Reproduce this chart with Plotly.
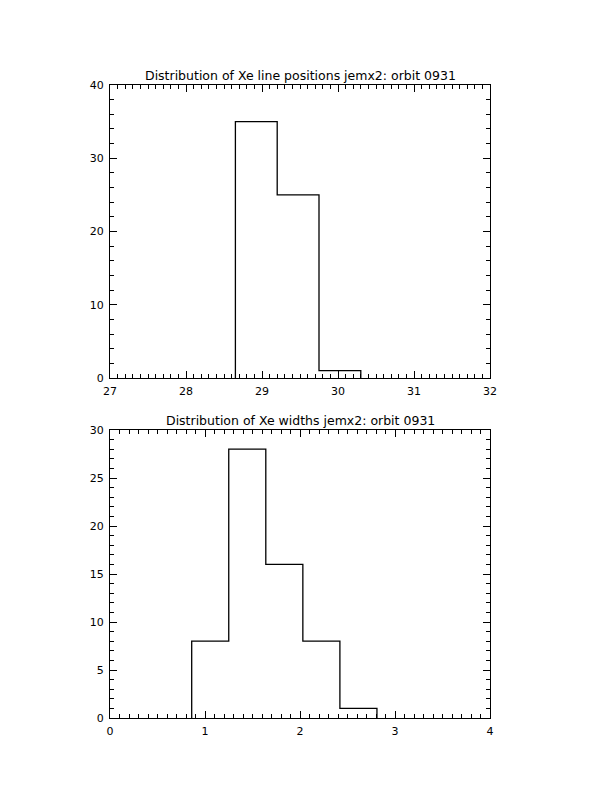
import plotly.graph_objects as go

# Top histogram: Xe line positions
pos_edges = [28.65, 29.2, 29.75, 30.3]   # bin left edges + final right edge
pos_counts = [35, 25, 1]

# Bottom histogram: Xe widths
wid_edges = [0.86, 1.25, 1.64, 2.03, 2.42, 2.81]
wid_counts = [8, 28, 16, 8, 1]

title_top = "Distribution of Xe line positions jemx2: orbit 0931"
title_bot = "Distribution of Xe widths jemx2: orbit 0931"


def step_outline(edges, counts):
    xs, ys = [edges[0]], [0]
    for i, c in enumerate(counts):
        xs += [edges[i], edges[i + 1]]
        ys += [c, c]
    xs.append(edges[-1])
    ys.append(0)
    return xs, ys


# page has an 8px body margin; size the figure so it fits without scrolling
OFF = 8
W, H = 612 - 2 * OFF, 792 - 2 * OFF
xdom = [(110 - OFF) / W, (490 - OFF) / W]
ydom_top = [(H - (378 - OFF)) / H, (H - (85 - OFF)) / H]
ydom_bot = [(H - (718 - OFF)) / H, (H - (430 - OFF)) / H]

fig = go.Figure()
x1, y1 = step_outline(pos_edges, pos_counts)
x2, y2 = step_outline(wid_edges, wid_counts)
fig.add_trace(go.Scatter(x=x1, y=y1, mode="lines", line=dict(color="black", width=1.3),
                         xaxis="x", yaxis="y", showlegend=False, hoverinfo="skip"))
fig.add_trace(go.Scatter(x=x2, y=y2, mode="lines", line=dict(color="black", width=1.3),
                         xaxis="x2", yaxis="y2", showlegend=False, hoverinfo="skip"))

font = dict(family="DejaVu Sans", size=11, color="black")


def axis(rng, dtick, minor_dtick, domain, anchor):
    return dict(range=rng, dtick=dtick, tick0=rng[0], domain=domain, anchor=anchor,
                showgrid=False, zeroline=False, showline=True, linecolor="black",
                linewidth=1, mirror="allticks", ticks="inside", ticklen=7,
                tickwidth=1, tickcolor="black", tickfont=font, ticklabelstandoff=3,
                automargin=False,
                minor=dict(dtick=minor_dtick, ticks="inside", ticklen=4,
                           tickcolor="black", tickwidth=1, showgrid=False))


fig.update_layout(
    width=W, height=H, margin=dict(l=0, r=0, t=0, b=0, pad=0, autoexpand=False),
    paper_bgcolor="white", plot_bgcolor="white",
    xaxis=axis([27, 32], 1, 0.1, xdom, "y"),
    yaxis=axis([0, 40], 10, 2, ydom_top, "x"),
    xaxis2=axis([0, 4], 1, 0.1, xdom, "y2"),
    yaxis2=axis([0, 30], 5, 1, ydom_bot, "x2"),
    annotations=[
        dict(text=title_top, x=sum(xdom) / 2, y=ydom_top[1], xref="paper", yref="paper",
             xanchor="center", yanchor="bottom", yshift=0, showarrow=False,
             font=dict(family="DejaVu Sans", size=12.5, color="black")),
        dict(text=title_bot, x=sum(xdom) / 2, y=ydom_bot[1], xref="paper", yref="paper",
             xanchor="center", yanchor="bottom", yshift=0, showarrow=False,
             font=dict(family="DejaVu Sans", size=12.5, color="black")),
    ],
)

fig.write_html("out.html")
